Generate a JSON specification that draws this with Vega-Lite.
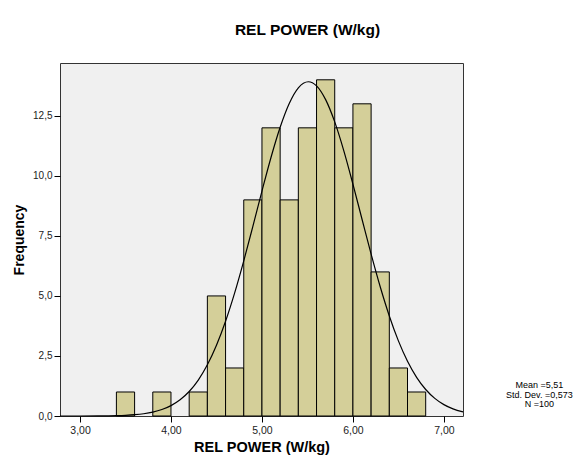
{
  "$schema": "https://vega.github.io/schema/vega-lite/v6.json",
  "autosize": {"type": "none"},
  "padding": {"left": 60, "top": 63, "right": 123, "bottom": 46},
  "width": 403,
  "height": 353,
  "background": "#ffffff",
  "config": {
    "view": {"fill": "#f0f0f0", "stroke": "#333333", "strokeWidth": 1},
    "font": "Liberation Sans"
  },
  "title": {
    "text": "REL POWER (W/kg)",
    "font": "Liberation Sans",
    "fontSize": 15.5,
    "fontWeight": "bold",
    "color": "#000000",
    "anchor": "middle",
    "dx": 46,
    "offset": 25
  },
  "datasets": {
    "bins": [
      {"bin_start": 3.4, "bin_end": 3.6, "count": 1},
      {"bin_start": 3.8, "bin_end": 4.0, "count": 1},
      {"bin_start": 4.2, "bin_end": 4.4, "count": 1},
      {"bin_start": 4.4, "bin_end": 4.6, "count": 5},
      {"bin_start": 4.6, "bin_end": 4.8, "count": 2},
      {"bin_start": 4.8, "bin_end": 5.0, "count": 9},
      {"bin_start": 5.0, "bin_end": 5.2, "count": 12},
      {"bin_start": 5.2, "bin_end": 5.4, "count": 9},
      {"bin_start": 5.4, "bin_end": 5.6, "count": 12},
      {"bin_start": 5.6, "bin_end": 5.8, "count": 14},
      {"bin_start": 5.8, "bin_end": 6.0, "count": 12},
      {"bin_start": 6.0, "bin_end": 6.2, "count": 13},
      {"bin_start": 6.2, "bin_end": 6.4, "count": 6},
      {"bin_start": 6.4, "bin_end": 6.6, "count": 2},
      {"bin_start": 6.6, "bin_end": 6.8, "count": 1}
    ],
    "curve": [
      {"x": 2.78, "y": 0.0001},
      {"x": 3.0, "y": 0.0009},
      {"x": 3.2, "y": 0.0041},
      {"x": 3.4, "y": 0.0158},
      {"x": 3.5, "y": 0.0296},
      {"x": 3.6, "y": 0.0538},
      {"x": 3.7, "y": 0.0948},
      {"x": 3.8, "y": 0.162},
      {"x": 3.9, "y": 0.269},
      {"x": 4.0, "y": 0.432},
      {"x": 4.1, "y": 0.675},
      {"x": 4.2, "y": 1.020},
      {"x": 4.3, "y": 1.497},
      {"x": 4.4, "y": 2.132},
      {"x": 4.5, "y": 2.946},
      {"x": 4.6, "y": 3.945},
      {"x": 4.7, "y": 5.125},
      {"x": 4.8, "y": 6.460},
      {"x": 4.9, "y": 7.898},
      {"x": 5.0, "y": 9.367},
      {"x": 5.1, "y": 10.776},
      {"x": 5.2, "y": 12.024},
      {"x": 5.3, "y": 13.015},
      {"x": 5.4, "y": 13.667},
      {"x": 5.51, "y": 13.92},
      {"x": 5.6, "y": 13.749},
      {"x": 5.7, "y": 13.175},
      {"x": 5.8, "y": 12.247},
      {"x": 5.9, "y": 11.043},
      {"x": 6.0, "y": 9.656},
      {"x": 6.1, "y": 8.193},
      {"x": 6.2, "y": 6.741},
      {"x": 6.3, "y": 5.381},
      {"x": 6.4, "y": 4.166},
      {"x": 6.5, "y": 3.129},
      {"x": 6.6, "y": 2.280},
      {"x": 6.7, "y": 1.611},
      {"x": 6.8, "y": 1.104},
      {"x": 6.9, "y": 0.734},
      {"x": 7.0, "y": 0.473},
      {"x": 7.1, "y": 0.296},
      {"x": 7.21, "y": 0.17}
    ],
    "stats": [
      {"x": 8.05, "y": 1.29, "label": "Mean =5,51"},
      {"x": 8.05, "y": 0.88, "label": "Std. Dev. =0,573"},
      {"x": 8.05, "y": 0.48, "label": "N =100"}
    ]
  },
  "layer": [
    {
      "data": {"name": "bins"},
      "mark": {"type": "rect", "fill": "#d4cf99", "stroke": "#000000", "strokeWidth": 1},
      "encoding": {
        "x": {
          "field": "bin_start",
          "type": "quantitative",
          "scale": {"domain": [2.78, 7.21], "nice": false, "zero": false},
          "axis": {
            "values": [3, 4, 5, 6, 7],
            "labelExpr": "replace(format(datum.value, '.2f'), '.', ',')",
            "title": "REL POWER (W/kg)",
            "titleFont": "Liberation Sans",
            "titleFontSize": 14.5,
            "titleFontWeight": "bold",
            "titleColor": "#000000",
            "titlePadding": 5,
            "labelFont": "Liberation Sans",
            "labelFontSize": 10.5,
            "labelColor": "#222222",
            "labelPadding": 3,
            "tickColor": "#000000",
            "tickSize": 6,
            "domain": false,
            "grid": false
          }
        },
        "x2": {"field": "bin_end"},
        "y": {
          "field": "count",
          "type": "quantitative",
          "scale": {"domain": [0, 14.7], "nice": false},
          "axis": {
            "values": [0, 2.5, 5, 7.5, 10, 12.5],
            "labelExpr": "replace(format(datum.value, '.1f'), '.', ',')",
            "title": "Frequency",
            "titleFont": "Liberation Sans",
            "titleFontSize": 14,
            "titleFontWeight": "bold",
            "titleColor": "#000000",
            "titlePadding": 6,
            "labelFont": "Liberation Sans",
            "labelFontSize": 10,
            "labelColor": "#222222",
            "labelPadding": 2,
            "tickColor": "#000000",
            "tickSize": 6,
            "domain": false,
            "grid": false
          }
        },
        "y2": {"datum": 0}
      }
    },
    {
      "data": {"name": "curve"},
      "mark": {"type": "line", "color": "#000000", "strokeWidth": 1.2, "interpolate": "monotone"},
      "encoding": {
        "x": {"field": "x", "type": "quantitative"},
        "y": {"field": "y", "type": "quantitative"}
      }
    },
    {
      "data": {"name": "stats"},
      "mark": {"type": "text", "font": "Liberation Sans", "fontSize": 9, "color": "#000000", "align": "center", "baseline": "middle"},
      "encoding": {
        "x": {"field": "x", "type": "quantitative"},
        "y": {"field": "y", "type": "quantitative"},
        "text": {"field": "label"}
      }
    }
  ]
}
